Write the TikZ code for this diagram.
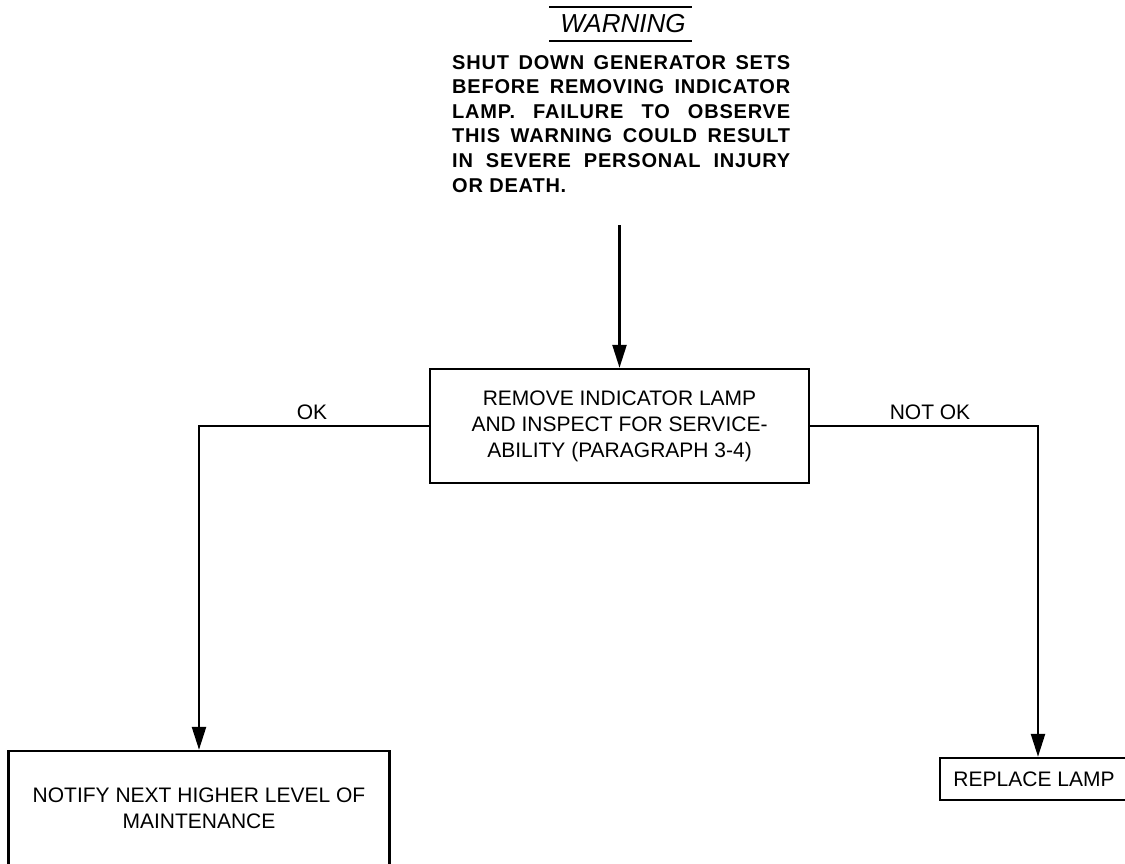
\documentclass[tikz,border=0pt]{standalone}
\usepackage{fontspec}
\setmainfont{Liberation Sans}
\usetikzlibrary{arrows.meta,positioning}

\tikzset{
  flowbox/.style={draw,line width=2.4pt,align=center,inner sep=0pt,
    font=\fontsize{21}{26}\selectfont},
  flowline/.style={line width=2.2pt},
  flowarrow/.style={line width=2.4pt,-{Triangle[length=23pt,width=14pt]}},
  branchlbl/.style={font=\fontsize{21}{26}\selectfont}
}

\begin{document}
\begin{tikzpicture}[x=1pt,y=-1pt]
  \useasboundingbox (0,0) rectangle (1125,863);
  \clip (0,0) rectangle (1125,863);

  % warning heading
  \node[font=\fontsize{26}{30}\selectfont\itshape] (warnhead) at (623,24) {WARNING};
  \draw[flowline] (549,7) -- (692,7);
  \draw[flowline] (549,41) -- (692,41);

  % warning text
  \node[font=\fontsize{20}{24.6}\selectfont\bfseries\addfontfeature{LetterSpace=4}\sloppy,
        text width=338pt, align=justify, inner sep=0pt, anchor=north west] (warntext) at (452,55)
    {SHUT DOWN GENERATOR SETS\linebreak
     BEFORE REMOVING INDICATOR\linebreak
     LAMP. FAILURE TO OBSERVE\linebreak
     THIS WARNING COULD RESULT\linebreak
     IN SEVERE PERSONAL INJURY\linebreak
     OR DEATH.};

  % flow boxes
  \node[flowbox, minimum width=379pt, minimum height=114pt] (inspect) at (619.5,426)
    {REMOVE INDICATOR LAMP\\AND INSPECT FOR SERVICE-\\ABILITY (PARAGRAPH 3-4)};
  \node[flowbox, minimum width=381pt, minimum height=114pt] (notify) at (199,808)
    {NOTIFY NEXT HIGHER LEVEL OF\\MAINTENANCE};
  \node[flowbox, minimum width=196pt, minimum height=42pt] (replace) at (1038,779)
    {\hspace*{-8pt}REPLACE LAMP};

  % connectors
  \coordinate (feed) at (619.5,225);
  \draw[flowarrow] (feed) -- (inspect.north);
  \draw[flowarrow] (inspect.west) -| (notify.north);
  \draw[flowarrow] (inspect.east) -| (replace.north);

  % branch labels
  \node[branchlbl] (oklbl) at (312,412) {OK};
  \node[branchlbl] (notoklbl) at (930,412) {NOT OK};
\end{tikzpicture}
\end{document}
